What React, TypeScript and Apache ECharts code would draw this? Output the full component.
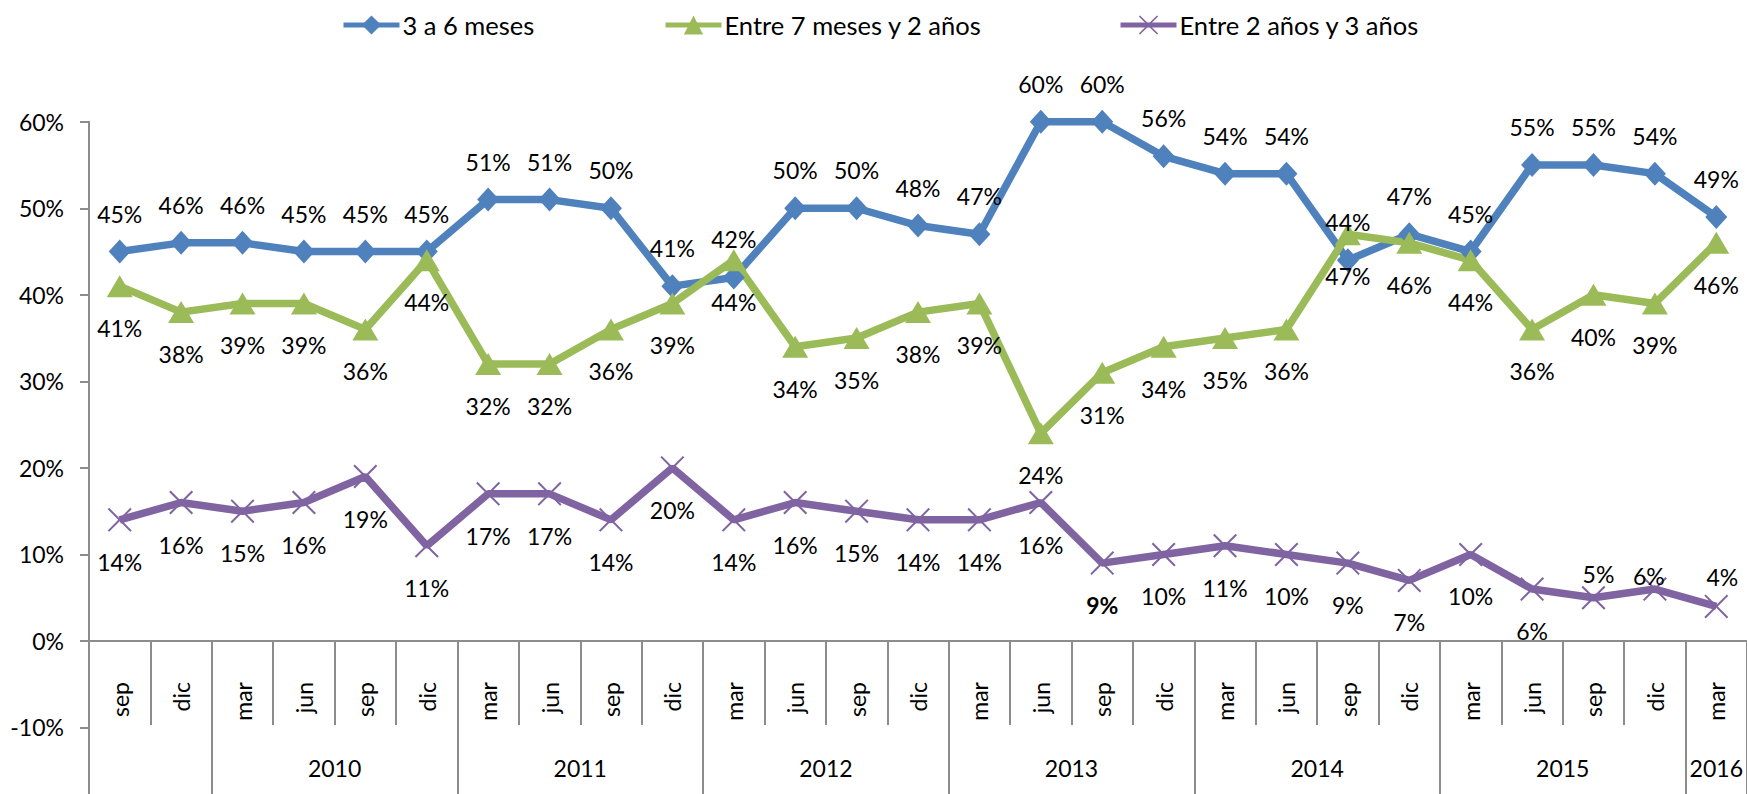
import React, { useEffect, useRef } from "react";
import * as echarts from "echarts";

const months = ["sep","dic","mar","jun","sep","dic","mar","jun","sep","dic","mar","jun","sep","dic","mar","jun","sep","dic","mar","jun","sep","dic","mar","jun","sep","dic","mar"];
const yearLabels = ["", "2010", "2011", "2012", "2013", "2014", "2015", "2016"];
const yearSpans = [2, 4, 4, 4, 4, 4, 4, 1];

const name1 = "3 a 6 meses";
const name2 = "Entre 7 meses y 2 años";
const name3 = "Entre 2 años y 3 años";
const serie1 = [45,46,46,45,45,45,51,51,50,41,42,50,50,48,47,60,60,56,54,54,44,47,45,55,55,54,49];
const serie2 = [41,38,39,39,36,44,32,32,36,39,44,34,35,38,39,24,31,34,35,36,47,46,44,36,40,39,46];
const serie3 = [14,16,15,16,19,11,17,17,14,20,14,16,15,14,14,16,9,10,11,10,9,7,10,6,5,6,4];

const yMin = -10;
const yMax = 60;
const yStep = 10;

const BLUE = "#4F81BD";
const GREEN = "#9BBB59";
const PURPLE = "#8064A2";
const AXIS = "#8C8C8C";
const FONT = "Lato";

const X_SYMBOL = "path://M0 6L6 0L50 44L94 0L100 6L56 50L100 94L94 100L50 56L6 100L0 94L44 50Z";

// label overrides for the purple series (placed above instead of below)
const purpleLabelOverrides: Record<number, any> = {
  16: { fontWeight: "bold" },
  24: { position: "top", distance: 0, offset: [5, 0] },
  25: { position: "top", distance: -10, offset: [-6, 0] },
  26: { position: "top", distance: 6, offset: [6, 0] },
};

export default function App() {
  const ref = useRef<HTMLDivElement>(null);
  useEffect(() => {
    if (!ref.current) return;
    const chart = echarts.init(ref.current, undefined, { renderer: "svg" });

    const bounds: number[] = [0];
    yearSpans.forEach((s, i) => bounds.push(bounds[i] + s));
    const centers = yearSpans.map((s, i) => bounds[i] + s / 2);

    const labelBase = { show: true, color: "#000", fontSize: 23, fontFamily: FONT, formatter: "{c}%" };
    const axisLabelStyle = { fontSize: 23, color: "#000", fontFamily: FONT };
    const axisLineStyle = { color: AXIS, width: 2 };

    const option: any = {
      animation: false,
      textStyle: { fontFamily: FONT },
      legend: [
        { data: [name1], left: 341 },
        { data: [name2], left: 663 },
        { data: [name3], left: 1118 },
      ].map((l) => ({
        ...l,
        top: 12,
        padding: 0,
        itemWidth: 56,
        itemHeight: 24,
        itemGap: 0,
        lineStyle: { width: 5 },
        textStyle: { fontSize: 25.5, color: "#000", fontFamily: FONT, padding: [0, 0, 0, -2] },
      })),
      grid: [
        { left: 89, right: -5, top: 121.7, bottom: 153, containLabel: false },
        { left: 89, right: -5, top: 641, bottom: 66.7, containLabel: false },
      ],
      xAxis: [
        {
          type: "category",
          gridIndex: 0,
          data: months,
          position: "bottom",
          boundaryGap: true,
          axisLine: { show: true, onZero: false, lineStyle: axisLineStyle },
          axisTick: { show: true, interval: 0, length: 84, lineStyle: axisLineStyle },
          axisLabel: { ...axisLabelStyle, interval: 0, rotate: 90, margin: 41 },
          splitLine: { show: false },
        },
        {
          type: "value",
          gridIndex: 1,
          position: "bottom",
          min: 0,
          max: months.length,
          offset: -4,
          axisLine: { show: false, onZero: false },
          axisTick: { show: true, customValues: bounds, length: 72, lineStyle: axisLineStyle },
          axisLabel: {
            ...axisLabelStyle,
            show: true,
            customValues: centers,
            margin: 33,
            formatter: (v: number) => {
              const i = centers.findIndex((c) => Math.abs(c - v) < 1e-6);
              return i >= 0 ? yearLabels[i] : "";
            },
          },
          splitLine: { show: false },
        },
      ],
      yAxis: [
        {
          type: "value",
          gridIndex: 0,
          min: 0,
          max: yMax,
          interval: yStep,
          axisLine: { show: true, onZero: false, lineStyle: axisLineStyle },
          axisTick: { show: true, length: 9, lineStyle: axisLineStyle },
          axisLabel: { ...axisLabelStyle, formatter: "{value}%", margin: 25 },
          splitLine: { show: false },
        },
        {
          type: "value",
          gridIndex: 1,
          min: yMin,
          max: 0,
          interval: yStep,
          axisLine: { show: true, onZero: false, lineStyle: axisLineStyle },
          axisTick: { show: true, length: 9, lineStyle: axisLineStyle },
          axisLabel: { ...axisLabelStyle, formatter: "{value}%", margin: 25, showMaxLabel: false },
          splitLine: { show: false },
        },
      ],
      series: [
        {
          name: name1,
          type: "line",
          xAxisIndex: 0,
          yAxisIndex: 0,
          data: serie1,
          symbol: "diamond",
          symbolSize: [22, 24],
          lineStyle: { color: BLUE, width: 7.5 },
          itemStyle: { color: BLUE },
          label: { ...labelBase, position: "top", distance: 14.5 },
          emphasis: { disabled: true },
        },
        {
          name: name2,
          type: "line",
          xAxisIndex: 0,
          yAxisIndex: 0,
          data: serie2,
          symbol: "triangle",
          symbolSize: [26, 22],
          lineStyle: { color: GREEN, width: 7.5 },
          itemStyle: { color: GREEN },
          label: { ...labelBase, position: "bottom", distance: 19.5 },
          emphasis: { disabled: true },
        },
        {
          name: name3,
          type: "line",
          xAxisIndex: 0,
          yAxisIndex: 0,
          data: serie3.map((v, i) =>
            purpleLabelOverrides[i] ? { value: v, label: purpleLabelOverrides[i] } : v
          ),
          symbol: X_SYMBOL,
          symbolSize: 24,
          lineStyle: { color: PURPLE, width: 7.5 },
          itemStyle: { color: PURPLE },
          label: { ...labelBase, position: "bottom", distance: 18.5 },
          emphasis: { disabled: true },
        },
      ],
    };
    chart.setOption(option);
    return () => chart.dispose();
  }, []);
  return (
    <div
      ref={ref}
      style={{ position: "fixed", left: 0, top: 0, width: 1747, height: 794, background: "#fff" }}
    />
  );
}
